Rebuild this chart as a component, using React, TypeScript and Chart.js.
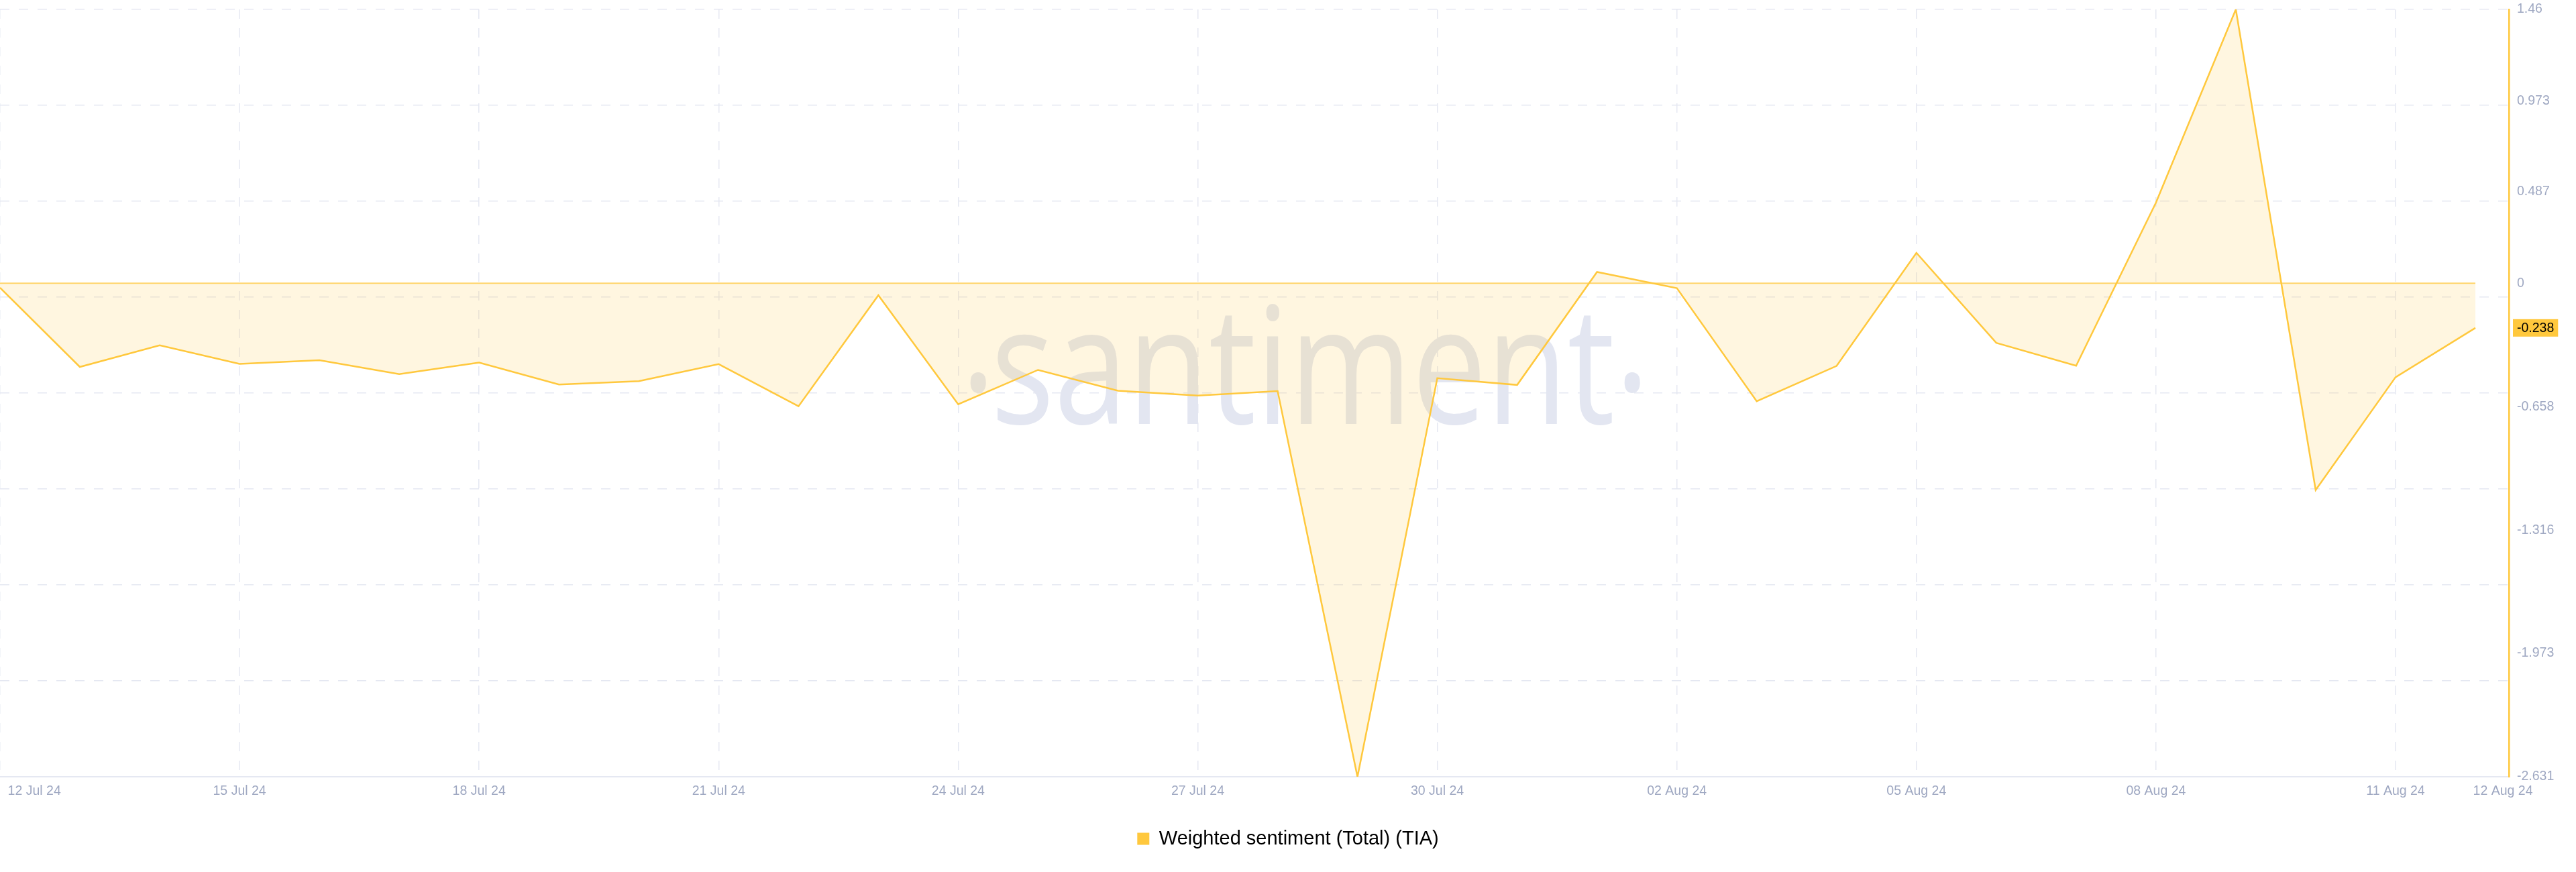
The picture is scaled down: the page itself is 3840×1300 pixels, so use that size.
import React, { useEffect, useRef } from "react";
import { Chart, registerables } from "chart.js";

Chart.register(...registerables);

// ---------- data ----------
const dates = [
  "12 Jul 24", "13 Jul 24", "14 Jul 24", "15 Jul 24", "16 Jul 24", "17 Jul 24", "18 Jul 24", "19 Jul 24",
  "20 Jul 24", "21 Jul 24", "22 Jul 24", "23 Jul 24", "24 Jul 24", "25 Jul 24", "26 Jul 24", "27 Jul 24",
  "28 Jul 24", "29 Jul 24", "30 Jul 24", "31 Jul 24", "01 Aug 24", "02 Aug 24", "03 Aug 24", "04 Aug 24",
  "05 Aug 24", "06 Aug 24", "07 Aug 24", "08 Aug 24", "09 Aug 24", "10 Aug 24", "11 Aug 24", "12 Aug 24",
];

const sentiment = [
  -0.024, -0.446, -0.331, -0.430, -0.410, -0.484, -0.423, -0.540,
  -0.522, -0.431, -0.656, -0.064, -0.645, -0.462, -0.573, -0.599,
  -0.575, -2.631, -0.506, -0.542, 0.060, -0.026, -0.629, -0.441,
  0.162, -0.318, -0.440, 0.430, 1.460, -1.102, -0.501, -0.238,
];

const xTickDays = [0, 3, 6, 9, 12, 15, 18, 21, 24, 27, 30, 31];
const xGridDays = [0, 3, 6, 9, 12, 15, 18, 21, 24, 27, 30];

const yTickValues = [1.46, 0.973, 0.487, 0, -0.658, -1.316, -1.973, -2.631];
const yTickLabels = ["1.46", "0.973", "0.487", "0", "-0.658", "-1.316", "-1.973", "-2.631"];

const seriesLabel = "Weighted sentiment (Total) (TIA)";
const watermarkText = "santiment";

// ---------- styles ----------
const Y_MIN = -2.631;
const Y_MAX = 1.46;
const X_MAX = 31.42;
const LINE_COLOR = "#FFC83D";
const ZERO_COLOR = "#FFD670";
const FILL_COLOR = "rgba(255, 200, 60, 0.16)";
const GRID_COLOR = "#E5E8F2";
const TICK_COLOR = "#9FA8C2";
const FONT = "'Liberation Sans', Arial, sans-serif";
const TICK_SIZE = 19.5;
const WM_COLOR = "#E3E6F1";

function drawInk(
  ctx: CanvasRenderingContext2D,
  text: string,
  left: number,
  baseline: number,
  sx: number,
  sy: number
) {
  const m = ctx.measureText(text);
  ctx.save();
  ctx.translate(left, baseline);
  ctx.scale(sx, sy);
  ctx.fillText(text, m.actualBoundingBoxLeft, 0);
  ctx.restore();
}

const watermarkPlugin = {
  id: "watermark",
  beforeDatasetsDraw(chart: any) {
    const ctx = chart.ctx as CanvasRenderingContext2D;
    ctx.save();
    ctx.font = "200px 'Open Sans', 'Noto Sans', sans-serif";
    ctx.fillStyle = WM_COLOR;
    ctx.textBaseline = "alphabetic";
    ctx.textAlign = "left";
    const m = ctx.measureText(watermarkText);
    const inkW = m.actualBoundingBoxLeft + m.actualBoundingBoxRight;
    const inkA = m.actualBoundingBoxAscent;
    const sx = 916 / inkW;
    const sy = 179 / inkA;
    drawInk(ctx, watermarkText, 1487, 632, sx, sy);
    const d = ctx.measureText("\u00B7");
    const dW = (d.actualBoundingBoxLeft + d.actualBoundingBoxRight) * sx;
    const dMid = ((d.actualBoundingBoxAscent - d.actualBoundingBoxDescent) / 2) * sy;
    for (const cx of [1458, 2433]) {
      drawInk(ctx, "\u00B7", cx - dW / 2, 570 + dMid, sx, sy);
    }
    ctx.restore();
  },
};

const lastValuePlugin = {
  id: "lastValue",
  afterDraw(chart: any) {
    const yScale = chart.scales.y;
    const v = sentiment[sentiment.length - 1];
    const y = yScale.getPixelForValue(v);
    const ctx = chart.ctx as CanvasRenderingContext2D;
    ctx.save();
    ctx.font = `${TICK_SIZE}px ${FONT}`;
    const text = v.toFixed(3);
    const tw = ctx.measureText(text).width;
    const x0 = chart.chartArea.right + 6;
    ctx.fillStyle = LINE_COLOR;
    ctx.fillRect(x0, y - 13, tw + 12, 26);
    ctx.fillStyle = "#000000";
    ctx.textBaseline = "middle";
    ctx.textAlign = "left";
    ctx.fillText(text, x0 + 6, y + 1);
    ctx.restore();
  },
};

export default function App() {
  const canvasRef = useRef<HTMLCanvasElement | null>(null);

  useEffect(() => {
    if (!canvasRef.current) return;
    Chart.defaults.font.family = FONT;

    const chart = new Chart(canvasRef.current, {
      type: "line",
      data: {
        datasets: [
          {
            label: seriesLabel,
            data: sentiment.map((v, i) => ({ x: i, y: v })),
            borderColor: LINE_COLOR,
            borderWidth: 2.5,
            backgroundColor: FILL_COLOR,
            fill: "origin",
            pointRadius: 0,
            tension: 0,
            order: 0,
            xAxisID: "x",
            yAxisID: "y",
          },
          {
            label: "zero",
            data: [
              { x: 0, y: 0 },
              { x: sentiment.length - 1, y: 0 },
            ],
            borderColor: ZERO_COLOR,
            borderWidth: 2,
            fill: false,
            pointRadius: 0,
            order: 1,
            xAxisID: "x",
            yAxisID: "y",
          },
        ],
      },
      options: {
        animation: false,
        responsive: false,
        events: [],
        layout: { padding: { top: 14, left: 0, right: 0, bottom: 25 } },
        scales: {
          x: {
            type: "linear",
            position: "bottom",
            min: 0,
            max: X_MAX,
            afterBuildTicks: (scale: any) => {
              scale.ticks = xTickDays.map((d, i) => {
                let value = d;
                if (i === 0) value = d + 0.43;
                if (i === xTickDays.length - 1) value = d + 0.345;
                return { value };
              });
            },
            ticks: {
              autoSkip: false,
              maxRotation: 0,
              color: TICK_COLOR,
              font: { size: TICK_SIZE },
              padding: 10,
              callback: (_v: any, i: number) => dates[xTickDays[i]],
            },
            grid: { display: false, drawTicks: false },
            border: { display: true, color: GRID_COLOR, width: 2 },
          },
          xGrid: {
            type: "linear",
            position: "bottom",
            min: 0,
            max: X_MAX,
            afterBuildTicks: (scale: any) => {
              scale.ticks = xGridDays.map((d) => ({ value: d }));
            },
            afterFit: (scale: any) => {
              scale.height = 24.6;
            },
            ticks: { display: false },
            grid: { display: true, color: GRID_COLOR, lineWidth: 1.5, drawTicks: false },
            border: { display: false, dash: [14, 14] },
          },
          y: {
            type: "linear",
            position: "right",
            min: Y_MIN,
            max: Y_MAX,
            afterBuildTicks: (scale: any) => {
              scale.ticks = yTickValues.map((v) => ({ value: v }));
            },
            afterFit: (scale: any) => {
              scale.width = 100;
              scale.paddingTop = 0;
              scale.paddingBottom = 0;
            },
            ticks: {
              autoSkip: false,
              color: TICK_COLOR,
              font: { size: TICK_SIZE },
              padding: 12,
              callback: (_v: any, i: number) => yTickLabels[i],
            },
            grid: { display: false, drawTicks: false },
            border: { display: true, color: LINE_COLOR, width: 2.5 },
          },
          yGrid: {
            type: "linear",
            position: "left",
            min: Y_MIN,
            max: Y_MAX,
            ticks: { display: false, count: 9 },
            afterFit: (scale: any) => {
              scale.width = 0;
              scale.paddingTop = 0;
              scale.paddingBottom = 0;
            },
            grid: { display: true, color: GRID_COLOR, lineWidth: 1.5, drawTicks: false },
            border: { display: false, dash: [14, 14] },
          },
        },
        plugins: {
          tooltip: { enabled: false },
          legend: {
            display: true,
            position: "bottom",
            align: "center",
            labels: {
              boxWidth: 18,
              boxHeight: 18,
              padding: 10,
              color: "#181A2C",
              font: { size: 29 },
              generateLabels: () => [
                {
                  text: seriesLabel,
                  fillStyle: LINE_COLOR,
                  strokeStyle: LINE_COLOR,
                  lineWidth: 0,
                  hidden: false,
                  datasetIndex: 0,
                },
              ],
            },
          },
        },
      },
      plugins: [watermarkPlugin, lastValuePlugin],
    } as any);

    return () => chart.destroy();
  }, []);

  return (
    <div style={{ position: "absolute", left: 0, top: 0, width: 3840, height: 1300, background: "#ffffff" }}>
      <canvas ref={canvasRef} width={3840} height={1300} style={{ display: "block" }} />
    </div>
  );
}
